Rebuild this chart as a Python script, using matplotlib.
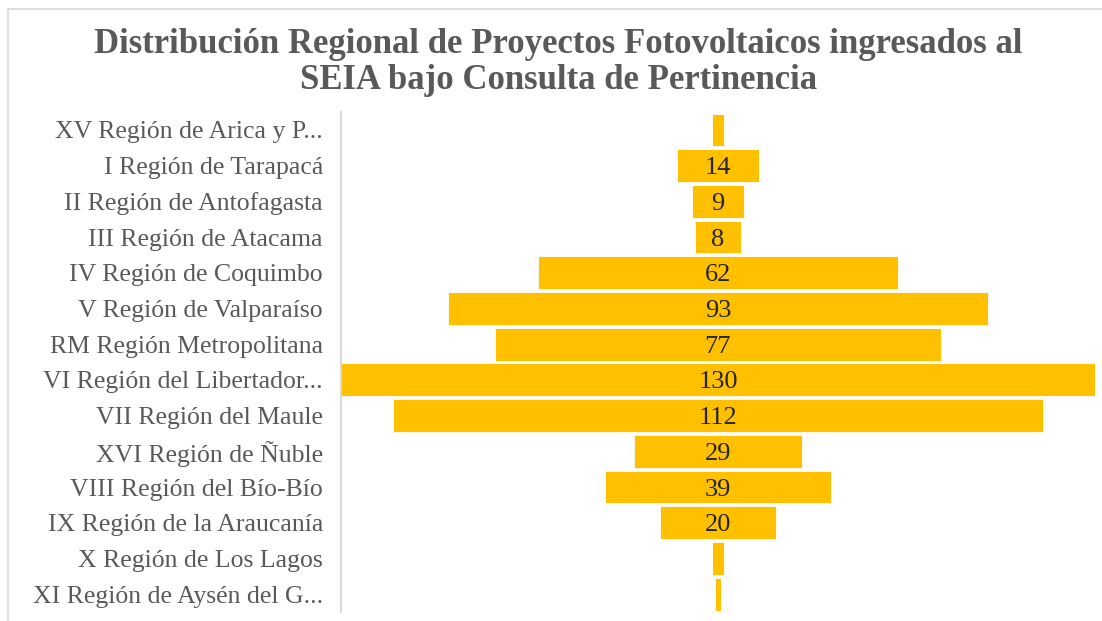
import matplotlib.pyplot as plt
from matplotlib.patches import Rectangle

regiones = [
    "XV Región de Arica y P...",
    "I Región de Tarapacá",
    "II Región de Antofagasta",
    "III Región de Atacama",
    "IV Región de Coquimbo",
    "V Región de Valparaíso",
    "RM Región Metropolitana",
    "VI Región del Libertador...",
    "VII Región del Maule",
    "XVI Región de Ñuble",
    "VIII Región del Bío-Bío",
    "IX Región de la Araucanía",
    "X Región de Los Lagos",
    "XI Región de Aysén del G...",
]
proyectos = [2, 14, 9, 8, 62, 93, 77, 130, 112, 29, 39, 20, 2, 1]
etiquetas = ["", "14", "9", "8", "62", "93", "77", "130", "112", "29", "39", "20", "", ""]

plt.rcParams['font.family'] = ['Liberation Serif', 'DejaVu Serif']

fig = plt.figure(figsize=(11.02, 6.21), dpi=100)
ax = fig.add_axes([0.3094, 0.0145, 0.6842, 0.805])

y = list(range(len(regiones)))
izq = [-v / 2 for v in proyectos]
ax.barh(y, proyectos, left=izq, height=0.92, color='#FFC000',
        edgecolor='white', linewidth=0.6)

for yi, txt in zip(y, etiquetas):
    if txt:
        ax.text(0, yi, txt, ha='center', va='center_baseline', fontsize=19, color='#262626')

ax.set_xlim(-65, 65)
ax.set_ylim(len(regiones) - 0.5, -0.5)
ax.set_yticks(y)
ax.set_yticklabels(regiones, fontsize=18.5, color='#595959', va='center_baseline')
ax.tick_params(axis='y', length=0, pad=13)
ax.set_xticks([])
for s in ['top', 'right', 'bottom']:
    ax.spines[s].set_visible(False)
ax.spines['left'].set_color('#D9D9D9')
ax.spines['left'].set_linewidth(1.5)

fig.text(0.507, 0.899, "Distribución Regional de Proyectos Fotovoltaicos ingresados al\nSEIA bajo Consulta de Pertinencia",
         ha='center', va='center', fontsize=25, fontweight='bold', color='#595959',
         linespacing=1.12)

fig.patches.append(Rectangle((0.007, -0.01), 1.0, 0.996, transform=fig.transFigure,
                             fill=False, edgecolor='#D9D9D9', linewidth=1.2))

fig.savefig('out.png', dpi=100)
